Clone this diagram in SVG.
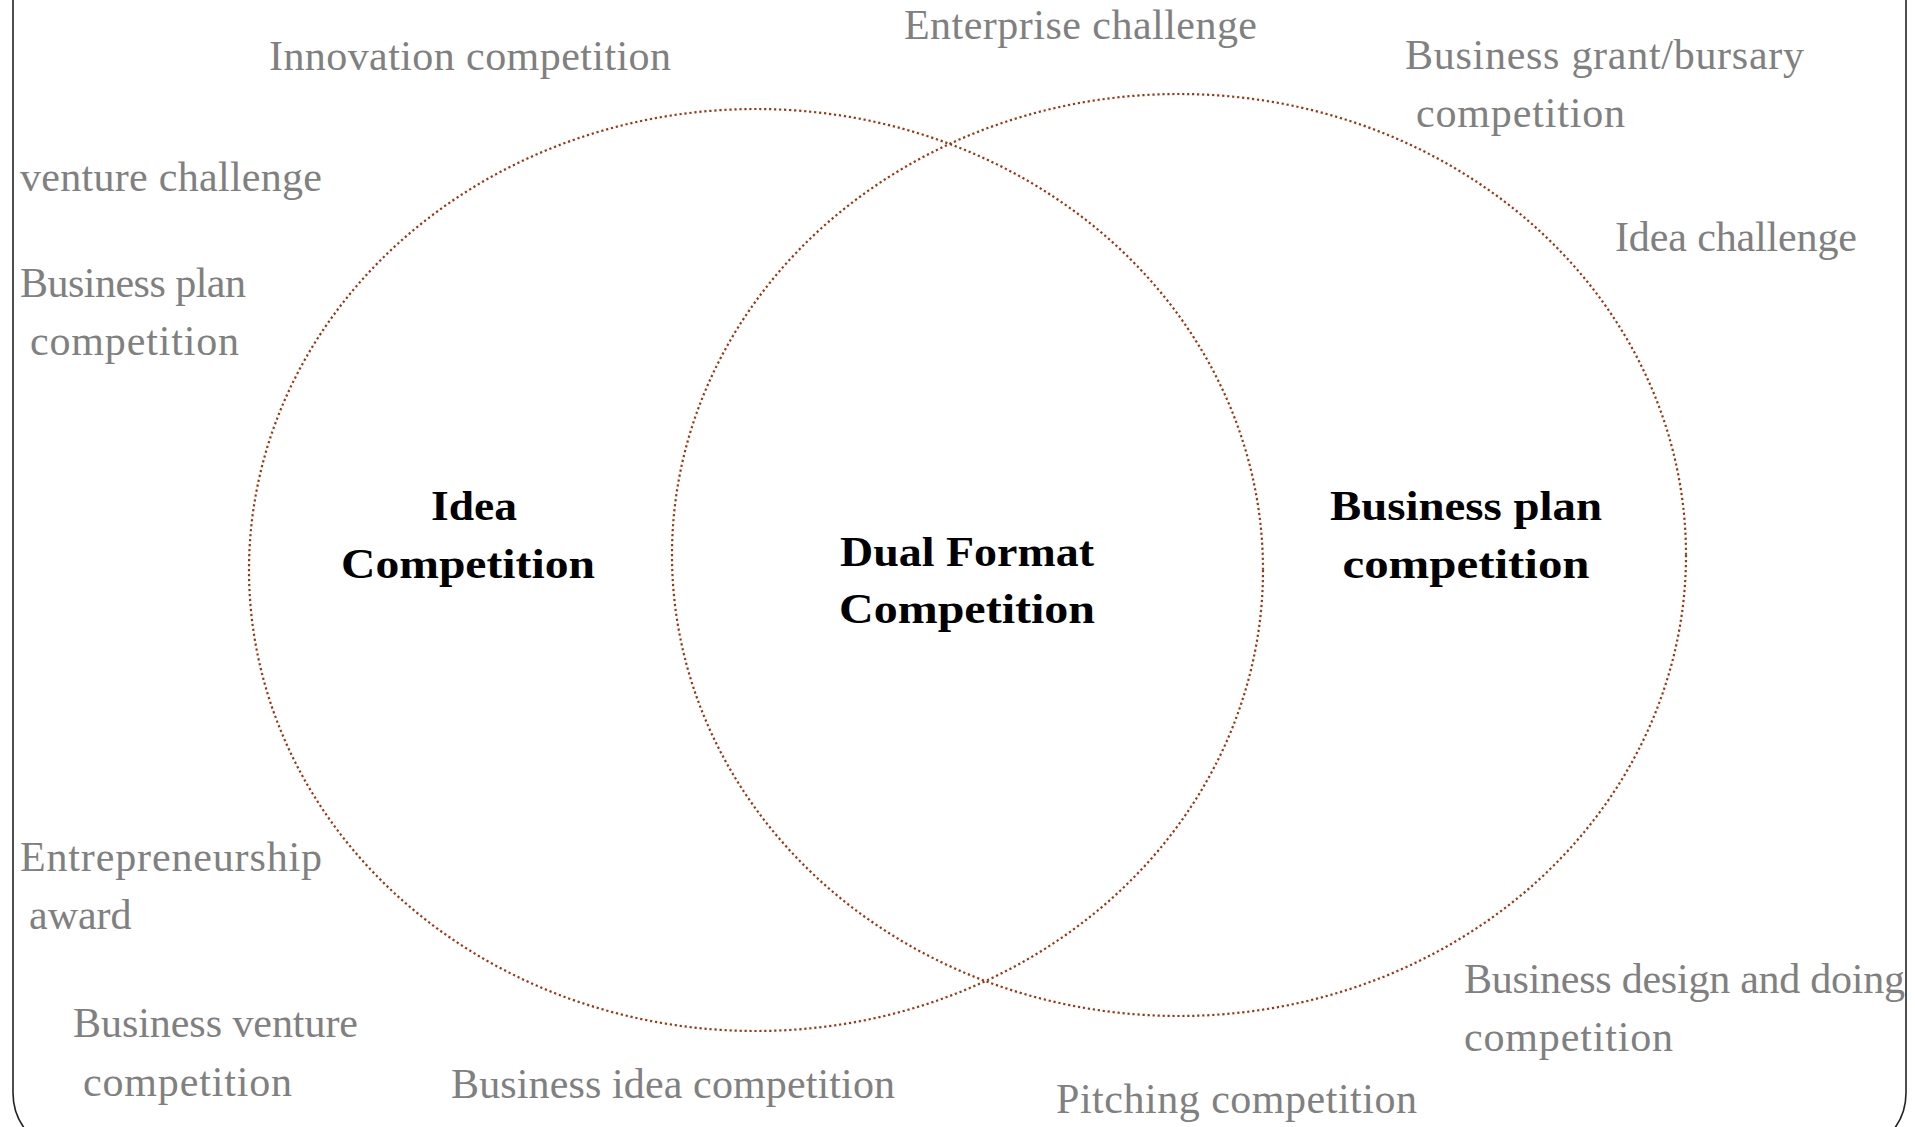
<svg xmlns="http://www.w3.org/2000/svg" width="1915" height="1127" viewBox="0 0 1915 1127">
<style>
.frame{fill:none;stroke:#222;stroke-width:1.6}
.set{fill:none;stroke:#a0340f;stroke-width:2.2;stroke-dasharray:2.2 2.8}
.lbl{font-family:"Liberation Serif","Times New Roman",serif;font-size:42px;fill:#808080}
.bold{font-family:"Liberation Serif","Times New Roman",serif;font-size:43px;font-weight:bold;fill:#000;text-anchor:middle}
</style>
<rect width="1915" height="1127" fill="#fff"/>
<rect class="frame" x="13" y="-80" width="1893" height="1233" rx="60" ry="60"/>
<g id="connectors"/>
<g id="idea-competition">
<ellipse class="set" cx="756" cy="570" rx="507" ry="461"/>
<text class="bold" x="474" y="520" textLength="86" lengthAdjust="spacingAndGlyphs">Idea</text>
<text class="bold" x="468" y="578" textLength="254" lengthAdjust="spacingAndGlyphs">Competition</text>
</g>
<g id="business-plan-competition">
<ellipse class="set" cx="1179" cy="555" rx="507" ry="461"/>
<text class="bold" x="1466" y="520" textLength="272" lengthAdjust="spacingAndGlyphs">Business plan</text>
<text class="bold" x="1466" y="578" textLength="247" lengthAdjust="spacingAndGlyphs">competition</text>
</g>
<g id="dual-format">
<text class="bold" x="967" y="566" textLength="254" lengthAdjust="spacingAndGlyphs">Dual Format</text>
<text class="bold" x="967" y="623" textLength="256" lengthAdjust="spacingAndGlyphs">Competition</text>
</g>
<g id="terms">
<text class="lbl" x="904" y="39" textLength="353">Enterprise challenge</text>
<text class="lbl" x="269" y="70" textLength="402">Innovation competition</text>
<text class="lbl" x="1405" y="69" textLength="399">Business grant/bursary</text>
<text class="lbl" x="1416" y="127" textLength="209">competition</text>
<text class="lbl" x="20" y="191" textLength="302">venture challenge</text>
<text class="lbl" x="1615" y="251" textLength="242">Idea challenge</text>
<text class="lbl" x="20" y="297" textLength="226">Business plan</text>
<text class="lbl" x="30" y="355" textLength="209">competition</text>
<text class="lbl" x="20" y="871" textLength="302">Entrepreneurship</text>
<text class="lbl" x="29" y="929">award</text>
<text class="lbl" x="73" y="1037" textLength="285">Business venture</text>
<text class="lbl" x="83" y="1096" textLength="209">competition</text>
<text class="lbl" x="451" y="1098" textLength="444">Business idea competition</text>
<text class="lbl" x="1464" y="993" textLength="441">Business design and doing</text>
<text class="lbl" x="1464" y="1051" textLength="209">competition</text>
<text class="lbl" x="1056" y="1113" textLength="361">Pitching competition</text>
</g>
</svg>
